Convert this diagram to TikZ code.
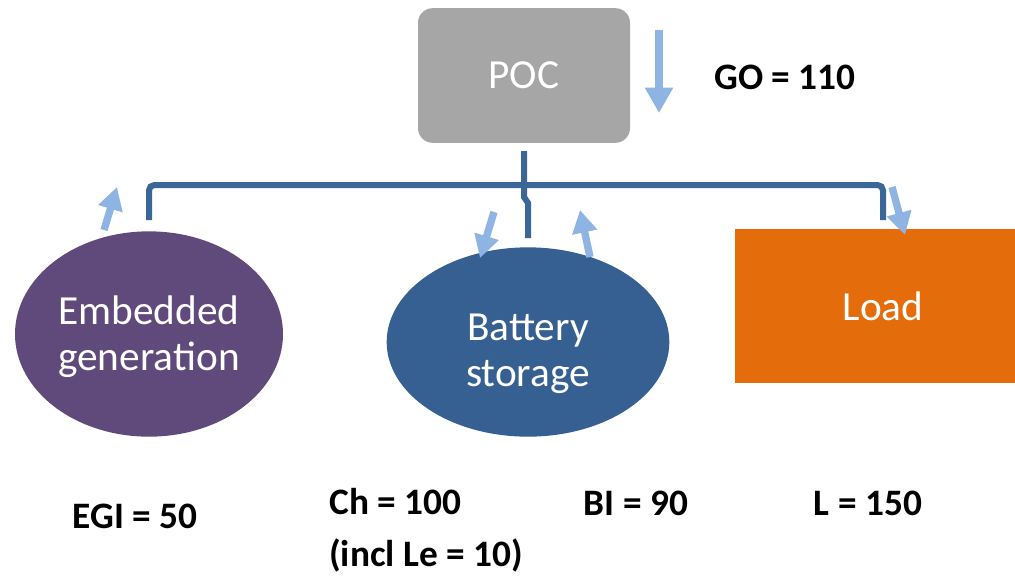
\documentclass[tikz,border=0pt]{standalone}
\usepackage{fontspec}
\setmainfont{Carlito}
\usetikzlibrary{arrows.meta,shapes.geometric}

\definecolor{pocgray}{HTML}{A6A6A6}
\definecolor{gencolor}{HTML}{604A7B}
\definecolor{batcolor}{HTML}{376092}
\definecolor{buscolor}{HTML}{3B6698}
\definecolor{flowcolor}{HTML}{8DB4E2}
\definecolor{loadcolor}{HTML}{E46C0A}

\tikzset{
    unit/.style={text=white,align=center,inner sep=0pt,
        font=\fontsize{31}{34.5}\selectfont},
    value/.style={font=\fontsize{28}{39}\selectfont\bfseries,inner sep=0pt},
    bus/.style={draw=buscolor,line width=4.5pt},
    flow/.style={draw=flowcolor,line width=5.5pt,
        -{Triangle[length=17pt,width=18pt]}},
}

\begin{document}
\begin{tikzpicture}[x=0.75pt,y=-0.75pt]
    \useasboundingbox (0,0) rectangle (1015,576);

    % units
    \node[unit,fill=pocgray,rounded corners=11pt,minimum width=159pt,
        minimum height=101pt] (poc) at (524,75.5) {POC};
    \node[unit,ellipse,fill=gencolor,minimum width=201pt,
        minimum height=154pt] (gen) at (149,334) {};
    \node[unit] (gentext) at (149,337) {Embedded\\generation};
    \node[unit,ellipse,fill=batcolor,minimum width=212pt,
        minimum height=142pt] (bat) at (528,342) {};
    \node[unit] (battext) at (528,354) {Battery\\storage};
    \node[unit,fill=loadcolor,minimum width=222pt,
        minimum height=115.5pt] (load) at (883,306) {Load};

    % bus
    \coordinate (busgen) at (149,220);
    \coordinate (busload) at (883,220);
    \draw[bus,rounded corners=4pt] (busgen) -- (149,185) -- (883,185) -- (busload);
    \draw[bus] ([yshift=-6pt]poc.south) -- (524,197) -- (528,203) -- (528,238);

    % power flows
    \draw[flow,-{Triangle[length=19pt,width=20pt]},line width=6pt]
        (659,30) -- (659,113);
    \draw[flow] (104,230) -- (117,187);
    \draw[flow] (494,212) -- (480,258);
    \draw[flow] (590,257) -- (580,210);
    \draw[flow] (892,187) -- (905,235);

    % values
    \node[value,anchor=west] (go) at (714,77) {GO = 110};
    \node[value] (egi) at (135,516) {EGI = 50};
    \node[value,anchor=north west,align=left] (ch) at (329,488)
        {Ch = 100\\(incl Le = 10)};
    \node[value] (bi) at (636,503) {BI = 90};
    \node[value] (l) at (868,503) {L = 150};
\end{tikzpicture}
\end{document}
